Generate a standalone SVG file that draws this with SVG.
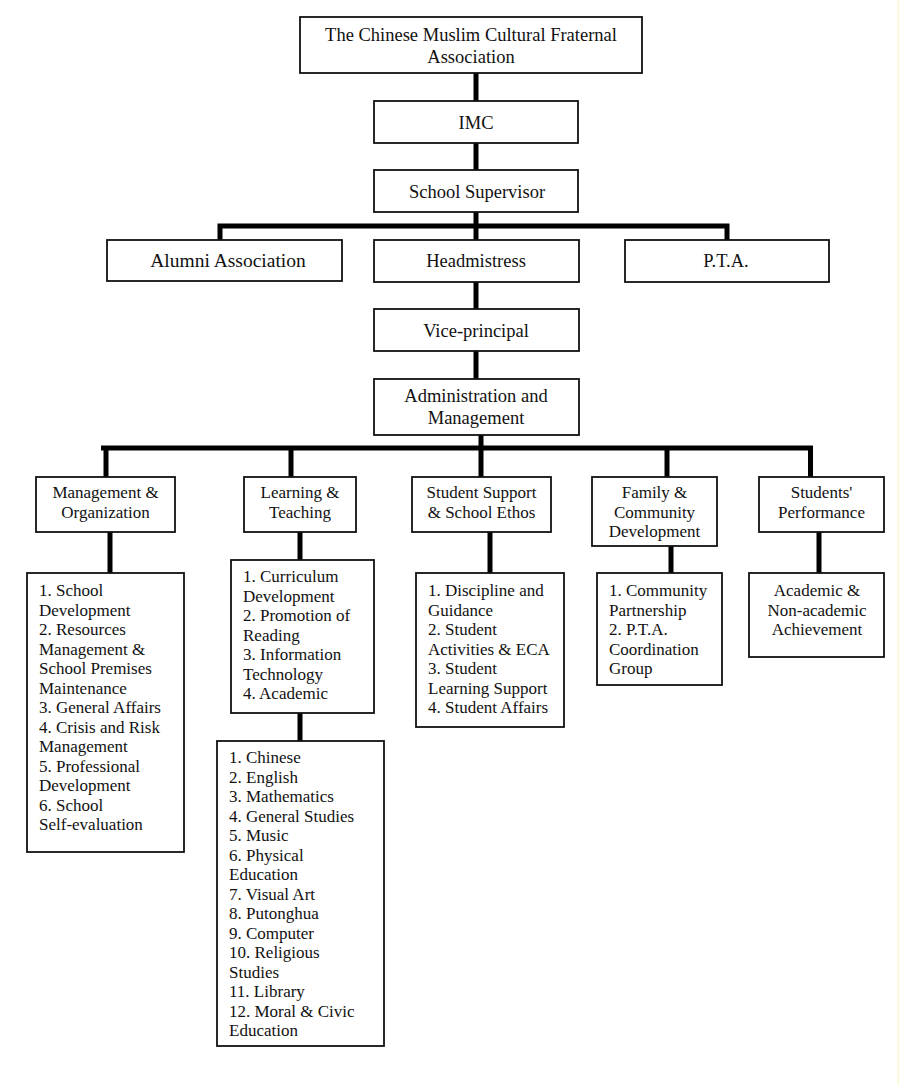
<svg xmlns="http://www.w3.org/2000/svg" width="900" height="1085" viewBox="0 0 900 1085">
<style>
.box{fill:#fff;stroke:#111;stroke-width:1.8}
.t{font-family:"Liberation Serif","Times New Roman",serif;fill:#111}
.c{text-anchor:middle}
.big{font-size:18.5px}
.mid{font-size:17px}
.lst{font-size:17px}
.conn{stroke:#000;stroke-width:5;fill:none}
</style>
<rect x="0" y="0" width="900" height="1085" fill="#fff"/>
<rect x="897.5" y="0" width="1.5" height="1085" fill="#fbf6d2"/>
<g id="connectors">
<line class="conn" x1="476" y1="73" x2="476" y2="101"/>
<line class="conn" x1="476" y1="143" x2="476" y2="170"/>
<line class="conn" x1="476" y1="212" x2="476" y2="240"/>
<polyline class="conn" points="220,240 220,226 727,226 727,240"/>
<line class="conn" x1="476" y1="282" x2="476" y2="309"/>
<line class="conn" x1="476" y1="351" x2="476" y2="379"/>
<line class="conn" x1="481" y1="435" x2="481" y2="448"/>
<line class="conn" x1="101" y1="448" x2="813" y2="448"/>
<line class="conn" x1="106" y1="448" x2="106" y2="477"/>
<line class="conn" x1="291" y1="448" x2="291" y2="477"/>
<line class="conn" x1="481" y1="448" x2="481" y2="477"/>
<line class="conn" x1="667" y1="448" x2="667" y2="477"/>
<line class="conn" x1="810.5" y1="448" x2="810.5" y2="477"/>
<line class="conn" x1="110" y1="532" x2="110" y2="573"/>
<line class="conn" x1="300" y1="532" x2="300" y2="560"/>
<line class="conn" x1="300" y1="713" x2="300" y2="741"/>
<line class="conn" x1="490" y1="532" x2="490" y2="573"/>
<line class="conn" x1="671" y1="546" x2="671" y2="573"/>
<line class="conn" x1="819" y1="532" x2="819" y2="573"/>
</g>
<g id="n-association">
<rect class="box" x="300" y="17" width="342" height="56"/>
<text class="t c big" x="471" y="41">The Chinese Muslim Cultural Fraternal</text>
<text class="t c big" x="471" y="63">Association</text>
</g>
<g id="n-imc">
<rect class="box" x="374" y="101" width="204" height="42"/>
<text class="t c big" x="476" y="129">IMC</text>
</g>
<g id="n-supervisor">
<rect class="box" x="374" y="170" width="204" height="42"/>
<text class="t c big" x="477" y="198">School Supervisor</text>
</g>
<g id="n-alumni">
<rect class="box" x="107" y="240" width="235" height="41"/>
<text class="t c" style="font-size:19.5px" x="228" y="267">Alumni Association</text>
</g>
<g id="n-headmistress">
<rect class="box" x="374" y="240" width="205" height="42"/>
<text class="t c big" x="476" y="267">Headmistress</text>
</g>
<g id="n-pta">
<rect class="box" x="625" y="240" width="204" height="42"/>
<text class="t c big" x="726" y="267">P.T.A.</text>
</g>
<g id="n-vice">
<rect class="box" x="374" y="309" width="205" height="42"/>
<text class="t c big" x="476" y="337">Vice-principal</text>
</g>
<g id="n-admin">
<rect class="box" x="374" y="379" width="205" height="56"/>
<text class="t c big" x="476" y="402">Administration and</text>
<text class="t c big" x="476" y="424">Management</text>
</g>
<g id="n-mo">
<rect class="box" x="36" y="477" width="139" height="55"/>
<text class="t c mid" x="105.5" y="498">Management &amp;</text>
<text class="t c mid" x="105.5" y="518">Organization</text>
</g>
<g id="n-lt">
<rect class="box" x="244" y="477" width="112" height="55"/>
<text class="t c mid" x="300" y="498">Learning &amp;</text>
<text class="t c mid" x="300" y="518">Teaching</text>
</g>
<g id="n-ss">
<rect class="box" x="412" y="477" width="139" height="55"/>
<text class="t c mid" x="481.5" y="498">Student Support</text>
<text class="t c mid" x="481.5" y="518">&amp; School Ethos</text>
</g>
<g id="n-fc">
<rect class="box" x="592" y="477" width="125" height="69"/>
<text class="t c mid" x="654.5" y="498">Family &amp;</text>
<text class="t c mid" x="654.5" y="517.5">Community</text>
<text class="t c mid" x="654.5" y="537">Development</text>
</g>
<g id="n-sp">
<rect class="box" x="759" y="477" width="125" height="55"/>
<text class="t c mid" x="821.5" y="498">Students'</text>
<text class="t c mid" x="821.5" y="518">Performance</text>
</g>
<g id="n-mo-list">
<rect class="box" x="27" y="573" width="157" height="279"/>
<text class="t lst" x="39" y="596">
<tspan x="39" dy="0">1. School</tspan>
<tspan x="39" dy="19.5">Development</tspan>
<tspan x="39" dy="19.5">2. Resources</tspan>
<tspan x="39" dy="19.5">Management &amp;</tspan>
<tspan x="39" dy="19.5">School Premises</tspan>
<tspan x="39" dy="19.5">Maintenance</tspan>
<tspan x="39" dy="19.5">3. General Affairs</tspan>
<tspan x="39" dy="19.5">4. Crisis and Risk</tspan>
<tspan x="39" dy="19.5">Management</tspan>
<tspan x="39" dy="19.5">5. Professional</tspan>
<tspan x="39" dy="19.5">Development</tspan>
<tspan x="39" dy="19.5">6. School</tspan>
<tspan x="39" dy="19.5">Self-evaluation</tspan>
</text>
</g>
<g id="n-lt-list">
<rect class="box" x="231" y="560" width="143" height="153"/>
<text class="t lst" x="243" y="582">
<tspan x="243" dy="0">1. Curriculum</tspan>
<tspan x="243" dy="19.5">Development</tspan>
<tspan x="243" dy="19.5">2. Promotion of</tspan>
<tspan x="243" dy="19.5">Reading</tspan>
<tspan x="243" dy="19.5">3. Information</tspan>
<tspan x="243" dy="19.5">Technology</tspan>
<tspan x="243" dy="19.5">4. Academic</tspan>
</text>
</g>
<g id="n-subjects">
<rect class="box" x="217" y="741" width="167" height="305"/>
<text class="t lst" x="229" y="763">
<tspan x="229" dy="0">1. Chinese</tspan>
<tspan x="229" dy="19.5">2. English</tspan>
<tspan x="229" dy="19.5">3. Mathematics</tspan>
<tspan x="229" dy="19.5">4. General Studies</tspan>
<tspan x="229" dy="19.5">5. Music</tspan>
<tspan x="229" dy="19.5">6. Physical</tspan>
<tspan x="229" dy="19.5">Education</tspan>
<tspan x="229" dy="19.5">7. Visual Art</tspan>
<tspan x="229" dy="19.5">8. Putonghua</tspan>
<tspan x="229" dy="19.5">9. Computer</tspan>
<tspan x="229" dy="19.5">10. Religious</tspan>
<tspan x="229" dy="19.5">Studies</tspan>
<tspan x="229" dy="19.5">11. Library</tspan>
<tspan x="229" dy="19.5">12. Moral &amp; Civic</tspan>
<tspan x="229" dy="19.5">Education</tspan>
</text>
</g>
<g id="n-ss-list">
<rect class="box" x="416" y="573" width="148" height="154"/>
<text class="t lst" x="428" y="596">
<tspan x="428" dy="0">1. Discipline and</tspan>
<tspan x="428" dy="19.5">Guidance</tspan>
<tspan x="428" dy="19.5">2. Student</tspan>
<tspan x="428" dy="19.5">Activities &amp; ECA</tspan>
<tspan x="428" dy="19.5">3. Student</tspan>
<tspan x="428" dy="19.5">Learning Support</tspan>
<tspan x="428" dy="19.5">4. Student Affairs</tspan>
</text>
</g>
<g id="n-fc-list">
<rect class="box" x="597" y="573" width="125" height="112"/>
<text class="t lst" x="609" y="596">
<tspan x="609" dy="0">1. Community</tspan>
<tspan x="609" dy="19.5">Partnership</tspan>
<tspan x="609" dy="19.5">2. P.T.A.</tspan>
<tspan x="609" dy="19.5">Coordination</tspan>
<tspan x="609" dy="19.5">Group</tspan>
</text>
</g>
<g id="n-sp-list">
<rect class="box" x="749" y="573" width="135" height="84"/>
<text class="t c lst" x="817" y="596">Academic &amp;</text>
<text class="t c lst" x="817" y="615.5">Non-academic</text>
<text class="t c lst" x="817" y="635">Achievement</text>
</g>
</svg>
